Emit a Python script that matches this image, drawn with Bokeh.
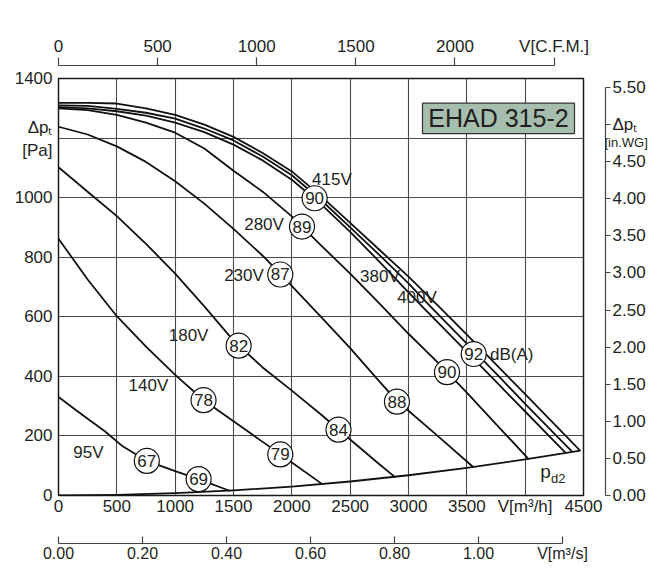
from bokeh.plotting import figure
from bokeh.models import (Range1d, LinearAxis, FixedTicker, NumeralTickFormatter,
                          Label, BoxAnnotation, Grid)
from bokeh.core.properties import value
from bokeh.embed import file_html
from bokeh.resources import INLINE

# ---------------- data ----------------
# flow in m3/h, total pressure in Pa
v_415 = [0, 250, 500, 750, 1000, 1250, 1500, 1750, 2000, 2250, 2500, 2750, 3000, 3259, 3500, 3750, 4000, 4250, 4473]
p_415 = [1318, 1318, 1316, 1300, 1278, 1245, 1204, 1150, 1088, 1005, 915, 825, 735, 635, 540, 440, 340, 240, 150]
v_400 = [0, 250, 500, 750, 1000, 1250, 1500, 1750, 2000, 2250, 2500, 2750, 3000, 3187, 3500, 3750, 4000, 4250, 4402]
p_400 = [1310, 1308, 1298, 1285, 1265, 1232, 1192, 1138, 1075, 992, 900, 808, 712, 635, 510, 410, 308, 208, 147]
v_380 = [0, 250, 500, 750, 1000, 1250, 1500, 1750, 2000, 2250, 2500, 2750, 3000, 3116, 3500, 3750, 4000, 4250, 4345]
p_380 = [1304, 1300, 1290, 1275, 1252, 1220, 1178, 1125, 1060, 978, 885, 785, 682, 635, 482, 382, 282, 182, 144]
v_280 = [0, 250, 500, 750, 1000, 1250, 1500, 1750, 2000, 2250, 2500, 2750, 3000, 3250, 3500, 3750, 4030]
p_280 = [1300, 1294, 1278, 1252, 1218, 1165, 1090, 1020, 937, 840, 745, 645, 543, 447, 345, 240, 122]
v_230 = [0, 250, 500, 750, 1000, 1250, 1500, 1750, 1900, 2250, 2500, 2750, 2900, 3250, 3559]
p_230 = [1238, 1212, 1172, 1120, 1055, 980, 895, 805, 745, 600, 495, 383, 318, 200, 94]
v_180 = [0, 250, 500, 750, 1000, 1250, 1500, 1750, 2000, 2250, 2500, 2750, 2887]
p_180 = [1102, 1020, 938, 845, 745, 635, 520, 430, 352, 272, 188, 105, 61]
v_140 = [0, 250, 500, 750, 1000, 1250, 1500, 1750, 2000, 2258]
p_140 = [862, 725, 602, 500, 405, 318, 249, 180, 111, 39]
v_95 = [0, 200, 400, 550, 757, 1000, 1201, 1472]
p_95 = [331, 272, 215, 165, 116, 82, 55, 15]
v_pd2 = [0, 500, 1000, 1500, 2000, 2500, 3000, 3500, 4000, 4473]
p_pd2 = [0, 2, 8, 17, 30, 47, 68, 93, 121, 151]

# voltage labels
volt_text = ["415V", "400V", "380V", "280V", "230V", "180V", "140V", "95V"]
volt_v = [2344, 3073, 2755, 1762, 1590, 1115, 771, 257]
volt_p = [1061, 666, 735, 910, 738, 536, 368, 144]

# sound level marks dB(A)
db_text = ["90", "92", "89", "90", "87", "88", "82", "84", "78", "79", "67", "69"]
db_v = [2195, 3559, 2087, 3330, 1901, 2901, 1544, 2400, 1243, 1901, 757, 1201]
db_p = [998, 475, 903, 414, 742, 315, 503, 221, 320, 138, 116, 55]

# axis ticks
x_ticks = [0, 500, 1000, 1500, 2000, 2500, 3000, 3500, 4000, 4500]
y_ticks = [0, 200, 400, 600, 800, 1000, 1157, 1235, 1400]
x_grid = [500, 1000, 1500, 2000, 2500, 3000, 3500, 4000]
y_grid = [200, 400, 600, 800, 1000, 1200]
cfm_ticks = [0, 500, 1000, 1500, 2000, 2500]
m3s_ticks = [0, 0.2, 0.4, 0.6, 0.8, 1.0, 1.2]
inwg_ticks = [0, 0.5, 1.0, 1.5, 2.0, 2.5, 3.0, 3.5, 4.0, 4.5, 5.0, 5.5]

M3H_PER_CFM = 1.69901
PA_PER_INWG = 249.089

FONT = "Liberation Sans"
TXT = "#231f20"
LS = "17px"

W, H = 651, 564
BL, BR, BT, BB = 58, 68, 78, 62

p = figure(width=W, height=H, x_range=Range1d(0, 4500), y_range=Range1d(0, 1400),
           output_backend="svg", toolbar_location=None,
           x_axis_type=None, y_axis_type=None,
           min_border_left=BL, min_border_right=BR, min_border_top=BT, min_border_bottom=BB,
           background_fill_color="white", border_fill_color="white")
p.outline_line_color = "#1a1a1a"
p.outline_line_width = 1.5

p.extra_x_ranges = {"cfm": Range1d(0, 4500 / M3H_PER_CFM), "m3s": Range1d(0, 4500 / 3600)}
p.extra_y_ranges = {"inwg": Range1d(0, 1400 / PA_PER_INWG)}

p.add_layout(Grid(dimension=0, ticker=FixedTicker(ticks=x_grid), grid_line_color="#4a4a4a", grid_line_width=1.1))
p.add_layout(Grid(dimension=1, ticker=FixedTicker(ticks=y_grid), grid_line_color="#4a4a4a", grid_line_width=1.1))


def style_labels(ax, size=LS):
    ax.major_label_text_font = FONT
    ax.major_label_text_font_size = size
    ax.major_label_text_color = TXT
    ax.minor_tick_line_color = None
    ax.minor_tick_in = 0
    ax.minor_tick_out = 0


def spacer(n, **kw):
    ax = LinearAxis(ticker=FixedTicker(ticks=[]), axis_line_color=None,
                    major_tick_line_color=None, minor_tick_line_color=None,
                    major_tick_in=0, major_tick_out=0, minor_tick_in=0, minor_tick_out=0,
                    major_label_standoff=0, axis_label="\u00a0",
                    axis_label_standoff=n, axis_label_text_font_size="1px", **kw)
    return ax


# left Pa axis (1200 is replaced by the axis title)
left = LinearAxis(ticker=FixedTicker(ticks=y_ticks), axis_line_color=None,
                  major_tick_line_color=None, major_tick_in=0, major_tick_out=0,
                  major_label_standoff=6,
                  major_label_overrides={1235: "\u0394p\u209c", 1157: "[Pa]"})
style_labels(left)
p.add_layout(left, "left")

# bottom m3/h axis
bot = LinearAxis(ticker=FixedTicker(ticks=x_ticks), axis_line_color=None,
                 major_tick_line_color=None, major_tick_in=0, major_tick_out=0,
                 major_label_standoff=1, major_label_overrides={4000: "V[m\u00b3/h]"})
style_labels(bot)
p.add_layout(bot, "below")
p.add_layout(spacer(21), "below")

# bottom m3/s axis
m3s = LinearAxis(x_range_name="m3s", ticker=FixedTicker(ticks=m3s_ticks),
                 formatter=NumeralTickFormatter(format="0.00"),
                 major_label_overrides={1.2: "V[m\u00b3/s]"}, bounds=(0, 1.2),
                 axis_line_color="#444", axis_line_width=1.2,
                 major_tick_line_color="#444", major_tick_line_width=1.2,
                 major_tick_in=7, major_tick_out=0, major_label_standoff=1)
style_labels(m3s, "16px")
p.add_layout(m3s, "below")

# top CFM axis
p.add_layout(spacer(9), "above")
cfm = LinearAxis(x_range_name="cfm", ticker=FixedTicker(ticks=cfm_ticks),
                 major_label_overrides={2500: "V[C.F.M.]"}, bounds=(0, 2500),
                 axis_line_color="#444", axis_line_width=1.2,
                 major_tick_line_color="#444", major_tick_line_width=1.2,
                 major_tick_in=0, major_tick_out=8, major_label_standoff=2)
style_labels(cfm)
p.add_layout(cfm, "above")

# right in.WG axis (5.00 carries the axis title)
p.add_layout(spacer(18), "right")
inwg = LinearAxis(y_range_name="inwg", ticker=FixedTicker(ticks=inwg_ticks),
                  formatter=NumeralTickFormatter(format="0.00"),
                  major_label_overrides={5.0: "\u0394p\u209c"}, bounds=(0, 5.5),
                  axis_line_color="#444", axis_line_width=1.2,
                  major_tick_line_color="#444", major_tick_line_width=1.2,
                  major_tick_in=0, major_tick_out=5, major_label_standoff=2)
style_labels(inwg)
p.add_layout(inwg, "right")

# unit text under the right axis title, pulled back next to the in.WG axis line
unit = LinearAxis(ticker=FixedTicker(ticks=[1186]), major_label_overrides={1186: "[in.WG]"},
                  axis_line_color=None, major_tick_line_color=None,
                  major_tick_in=0, major_tick_out=0, major_label_standoff=-44)
style_labels(unit, "13px")
p.add_layout(unit, "right")

# curves
for vv, pp in [(v_415, p_415), (v_400, p_400), (v_380, p_380), (v_280, p_280),
               (v_230, p_230), (v_180, p_180), (v_140, p_140), (v_95, p_95), (v_pd2, p_pd2)]:
    p.line(vv, pp, line_color="#111111", line_width=1.8, line_join="round")

# voltage labels
p.text(x=volt_v, y=volt_p, text=volt_text, text_font=value(FONT), text_font_size=value(LS),
       text_color=TXT, text_align="center", text_baseline="middle")

# dB circles
p.scatter(x=db_v, y=db_p, marker="circle", size=25, fill_color="white",
          line_color="#111111", line_width=1.2)
p.text(x=db_v, y=db_p, text=db_text, text_font=value(FONT), text_font_size=value(LS),
       text_color=TXT, text_align="center", text_baseline="middle")

# annotations inside the frame
p.add_layout(Label(x=3885, y=475, text="dB(A)", text_font=FONT, text_font_size=LS,
                   text_color=TXT, text_align="center", text_baseline="middle"))
p.add_layout(Label(x=4174, y=79, text="p", text_font=FONT, text_font_size="19px",
                   text_color=TXT, text_align="center", text_baseline="middle"))
p.add_layout(Label(x=4222, y=56, text="d2", text_font=FONT, text_font_size="13px",
                   text_color=TXT, text_align="left", text_baseline="middle"))

# box title
p.add_layout(BoxAnnotation(left=3120, right=4423, top=1317, bottom=1215,
                           fill_color="#a5bead", fill_alpha=1.0,
                           line_color="#333333", line_width=1.2, line_alpha=1.0))
p.add_layout(Label(x=3771, y=1266, text="EHAD 315-2", text_font=FONT, text_font_size="25px",
                   text_color=TXT, text_align="center", text_baseline="middle"))

open("out.html", "w").write(file_html(p, INLINE))
